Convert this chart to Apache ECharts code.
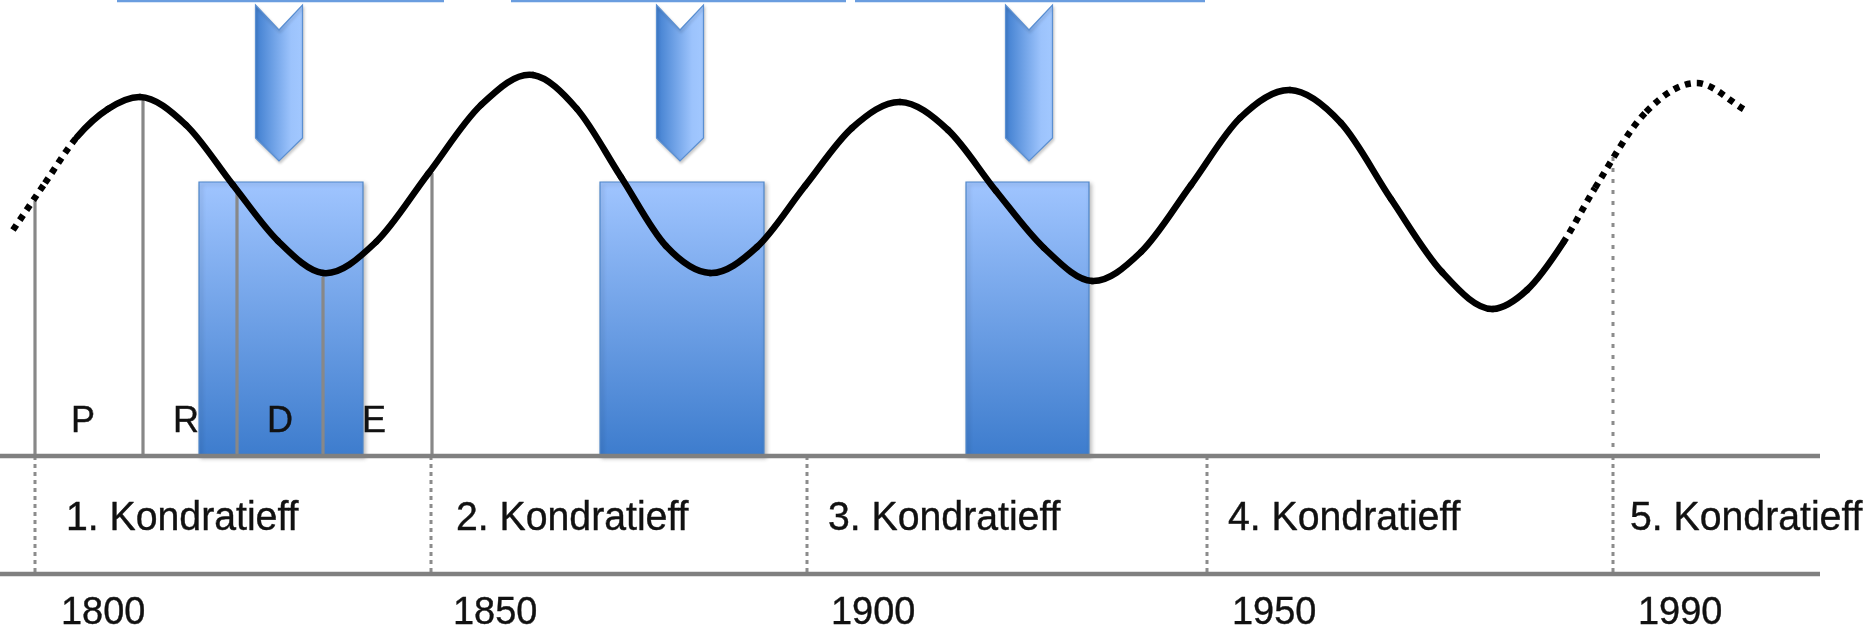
<!DOCTYPE html>
<html><head><meta charset="utf-8">
<script src="https://cdn.jsdelivr.net/npm/echarts@6.0.0/dist/echarts.min.js"></script>
<style>html,body{margin:0;padding:0;background:#fff}#chart{width:1876px;height:630px}</style>
</head><body><div id="chart"></div>
<script>
// ---- data (schematic units: x = position along the time line, y = activity level, 0 = time axis) ----
const wavePoints = [[13,226],[45,273],[77,319],[108,347],[140,359],[186,331],[233,271],[278,215],[323,183],
  [376,214],[428,282],[481,351],[533,381],[577,347],[621,279],[666,210],[710,183],
  [757,209],[805,270],[852,328],[900,354],[948,326],[996,265],[1044,208],[1092,175],
  [1141,204],[1191,271],[1240,338],[1290,366],[1341,333],[1391,257],[1442,184],[1493,147],
  [1527,166],[1563,213],[1595,268],[1646,344],[1697,373],[1745,346]];
const solidFrom = 77;    // wave is dotted before this position
const solidTo = 1563;    // and after this one

const clusterRanges = [[199,363],[600,764],[966,1089]];   // blue blocks: start, end
const clusterHeight = 274;
const arrowCenters = [279, 680, 1029];
const topBoxEdges = [[117,444],[511,846],[855,1205]];

const phaseLines = [[35,255],[143,359],[237,263],[323,179],[432,283]]; // x, top
const phaseLabels = ['P','R','D','E'];
const phaseLabelX = [83,186,280,374];

const separators = [35,431,807,1207,1613];
const lastSeparatorTop = 299;
const kondratieffLabels = ['1. Kondratieff','2. Kondratieff','3. Kondratieff','4. Kondratieff','5. Kondratieff'];
const kondratieffX = [66,456,828,1228,1630];
const yearLabels = ['1800','1850','1900','1950','1990'];
const yearX = [61,453,831,1232,1638];

const axisLevels = [0,-118];
const axisEnd = 1820;
const kondratieffLevel = -63;
const yearLevel = -157;
const phaseLevel = 34;

// ---- chart ----
const FONT = '"Liberation Sans", Arial, sans-serif';
const chart = echarts.init(document.getElementById('chart'), null, {renderer:'canvas'});

function textItem(api, x, y, txt, size, align, sx) {
  const p = api.coord([x, y]);
  return {type:'text', x:p[0], y:p[1], scaleX:sx || 1, scaleY:1,
    style:{text:txt, x:0, y:0, fill:'#111', stroke:'#111', lineWidth:0.4, fontSize:size, fontFamily:FONT,
    font: size + 'px ' + FONT, align:align, textAlign:align, verticalAlign:'middle', textVerticalAlign:'middle'}};
}

// slope (in pixels) of the smooth wave at point j, from its neighbours
function slopeAt(P, j) {
  const n = P.length;
  if (j === 0) return (P[1][1]-P[0][1])/(P[1][0]-P[0][0]);
  if (j === n-1) return (P[n-1][1]-P[n-2][1])/(P[n-1][0]-P[n-2][0]);
  const h0 = P[j][0]-P[j-1][0], h1 = P[j+1][0]-P[j][0];
  const d0 = (P[j][1]-P[j-1][1])/h0, d1 = (P[j+1][1]-P[j][1])/h1;
  return (d0*h1 + d1*h0)/(h0+h1);
}

const option = {
  animation:false,
  backgroundColor:'#fff',
  grid:{left:0,right:0,top:0,bottom:0},
  xAxis:{type:'value',min:0,max:1876,show:false},
  yAxis:{type:'value',min:-174,max:456,show:false},
  series:[
    { // blue blocks
      type:'custom', z:1,
      data: clusterRanges,
      renderItem:function(params, api){
        const p0 = api.coord([api.value(0), clusterHeight]);
        const p1 = api.coord([api.value(1), 0]);
        return {type:'rect', shape:{x:p0[0], y:p0[1], width:p1[0]-p0[0], height:p1[1]-p0[1]},
          style:{fill:new echarts.graphic.LinearGradient(0,0,0,1,[{offset:0,color:'#a0c5ff'},{offset:1,color:'#3d7ccd'}]),
            stroke:'#4f86c9', lineWidth:1.2, shadowBlur:4, shadowOffsetX:2, shadowOffsetY:2, shadowColor:'rgba(0,0,0,0.25)'}};
      }
    },
    { // arrows
      type:'custom', z:1,
      data: arrowCenters.map(c=>[c]),
      renderItem:function(params, api){
        const cx = api.coord([api.value(0), 0])[0];
        const top = api.coord([0, 451])[1];
        const notch = api.coord([0, 426])[1];
        const shaft = api.coord([0, 318])[1];
        const tip = api.coord([0, 295])[1];
        const hw = 23.5;
        return {type:'polygon', shape:{points:[[cx-hw,top],[cx,notch],[cx+hw,top],[cx+hw,shaft],[cx,tip],[cx-hw,shaft]]},
          style:{fill:new echarts.graphic.LinearGradient(0,0,1,0,[{offset:0,color:'#3f7ecf'},{offset:0.75,color:'#9cc3fc'},{offset:1,color:'#a2c8ff'}]),
            stroke:'#5a8fd2', lineWidth:1.2, shadowBlur:3, shadowOffsetX:1, shadowOffsetY:2, shadowColor:'rgba(0,0,0,0.2)'}};
      }
    },
    { // top box edges
      type:'custom', z:1,
      data: topBoxEdges,
      renderItem:function(params, api){
        const p0 = api.coord([api.value(0), 455]);
        const p1 = api.coord([api.value(1), 455]);
        return {type:'line', shape:{x1:p0[0],y1:p0[1],x2:p1[0],y2:p1[1]}, style:{stroke:'#6a9ddf', lineWidth:2.5}};
      }
    },
    { // phase lines
      type:'custom', z:2,
      data: phaseLines,
      renderItem:function(params, api){
        const p0 = api.coord([api.value(0), api.value(1)]);
        const p1 = api.coord([api.value(0), 0]);
        return {type:'line', shape:{x1:p0[0],y1:p0[1],x2:p1[0],y2:p1[1]}, style:{stroke:'#888', lineWidth:3.2}};
      }
    },
    { // separators below the axis
      type:'custom', z:2,
      data: separators.map(s=>[s]),
      renderItem:function(params, api){
        const p0 = api.coord([api.value(0), axisLevels[0]]);
        const p1 = api.coord([api.value(0), axisLevels[1]]);
        return {type:'line', shape:{x1:p0[0],y1:p0[1],x2:p1[0],y2:p1[1]}, style:{stroke:'#8c8c8c', lineWidth:3, lineDash:[4,4]}};
      }
    },
    { // last separator above axis up to the wave
      type:'custom', z:2,
      data: [[separators[4], lastSeparatorTop]],
      renderItem:function(params, api){
        const p0 = api.coord([api.value(0), api.value(1)]);
        const p1 = api.coord([api.value(0), 0]);
        return {type:'line', shape:{x1:p0[0],y1:p0[1],x2:p1[0],y2:p1[1]}, style:{stroke:'#8c8c8c', lineWidth:3, lineDash:[4,7]}};
      }
    },
    { // axis lines
      type:'custom', z:3,
      data: axisLevels.map(l=>[l]),
      renderItem:function(params, api){
        const p0 = api.coord([0, api.value(0)]);
        const p1 = api.coord([axisEnd, api.value(0)]);
        return {type:'line', shape:{x1:p0[0],y1:p0[1],x2:p1[0],y2:p1[1]}, style:{stroke:'#808080', lineWidth:4.5}};
      }
    },
    { // the long wave, one smooth segment per data point
      type:'custom', z:4,
      data: wavePoints,
      renderItem:function(params, api){
        const i = params.dataIndex;
        if (i >= wavePoints.length - 1) return {type:'group', children:[]};
        const P = wavePoints.map(p => api.coord(p));
        const a = P[i], b = P[i+1];
        const h = b[0]-a[0];
        const ma = slopeAt(P, i), mb = slopeAt(P, i+1);
        const dotted = wavePoints[i][0] < solidFrom || wavePoints[i+1][0] > solidTo;
        return {type:'bezierCurve',
          shape:{x1:a[0], y1:a[1], cpx1:a[0]+h/3, cpy1:a[1]+ma*h/3, cpx2:b[0]-h/3, cpy2:b[1]-mb*h/3, x2:b[0], y2:b[1]},
          style:{stroke:'#000', fill:'none', lineWidth:6.5, lineDash: dotted ? [6,6] : null, lineCap: dotted ? 'butt' : 'round'}};
      }
    },
    { // phase labels
      type:'custom', z:5,
      data: phaseLabels.map((t,i)=>[phaseLabelX[i]]),
      renderItem:function(params, api){
        return textItem(api, api.value(0), phaseLevel, phaseLabels[params.dataIndex], 36, 'center');
      }
    },
    { // Kondratieff labels
      type:'custom', z:5,
      data: kondratieffLabels.map((t,i)=>[kondratieffX[i]]),
      renderItem:function(params, api){
        return textItem(api, api.value(0), kondratieffLevel, kondratieffLabels[params.dataIndex], 40, 'left', 0.98);
      }
    },
    { // year labels
      type:'custom', z:5,
      data: yearLabels.map((t,i)=>[yearX[i]]),
      renderItem:function(params, api){
        return textItem(api, api.value(0), yearLevel, yearLabels[params.dataIndex], 39.5, 'left', 0.96);
      }
    }
  ]
};
chart.setOption(option);
</script></body></html>
